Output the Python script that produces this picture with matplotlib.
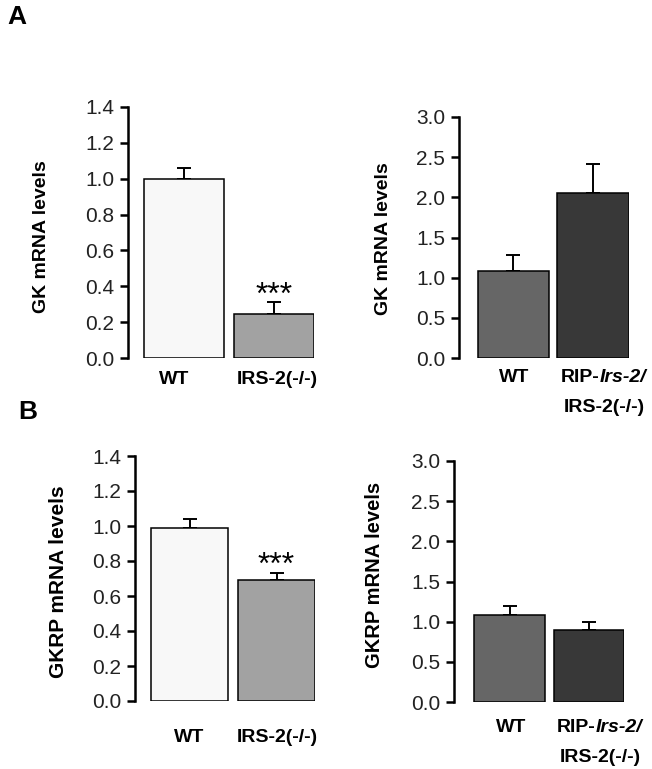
import matplotlib
matplotlib.use("Agg")
import matplotlib.pyplot as plt
import numpy as np

plt.rcParams['font.family'] = ['Liberation Sans', 'DejaVu Sans']

# ---- data ----
groups_ko = ["WT", "IRS-2(-/-)"]
groups_rip = ["WT", "RIP-Irs-2/IRS-2(-/-)"]

gk_ko_vals = [1.0, 0.245]
gk_ko_err = [0.06, 0.065]
gk_rip_vals = [1.085, 2.06]
gk_rip_err = [0.20, 0.35]

gkrp_ko_vals = [0.99, 0.69]
gkrp_ko_err = [0.05, 0.04]
gkrp_rip_vals = [1.08, 0.90]
gkrp_rip_err = [0.12, 0.10]

ko_ticks = [0.0, 0.2, 0.4, 0.6, 0.8, 1.0, 1.2, 1.4]
rip_ticks = [0.0, 0.5, 1.0, 1.5, 2.0, 2.5, 3.0]

ko_colors = ["#f8f8f8", "#a2a2a2"]
rip_colors = ["#666666", "#383838"]

W, H = 652, 769
fig = plt.figure(figsize=(W / 100, H / 100), dpi=100)


def px_axes(left, right, top, bottom):
    return fig.add_axes([left / W, 1 - bottom / H, (right - left) / W, (bottom - top) / H])


def draw(ax, vals, errs, colors, ticks, width, offset, stars=None):
    x = np.arange(len(vals))
    ax.bar(x, vals, width=width, color=colors, edgecolor="black", linewidth=1.1, zorder=2)
    ax.errorbar(x, vals, yerr=[np.zeros(len(errs)), errs], fmt="none", ecolor="black",
                elinewidth=1.4, capsize=5, capthick=1.4, zorder=1)
    ax.set_xlim(-offset, len(vals) - 1 + width / 2)
    ax.set_ylim(ticks[0], ticks[-1])
    ax.set_yticks(ticks)
    ax.set_yticklabels([f"{t:.1f}" for t in ticks], fontsize=15, color="#222222")
    ax.tick_params(axis="y", direction="out", length=6, width=1.8, pad=4)
    ax.set_xticks([])
    for s in ["top", "right", "bottom"]:
        ax.spines[s].set_visible(False)
    ax.spines["left"].set_linewidth(1.8)
    if stars:
        for i, st in stars.items():
            ax.annotate(st, xy=(i, vals[i] + errs[i]), xytext=(0, -8), textcoords="offset pixels",
                        ha="center", va="bottom", fontsize=23)
    return x


def rip_label(ax, xdata, y_px_offset):
    t1 = ax.annotate("RIP-", xy=(xdata, 0), xycoords=("data", "axes fraction"),
                     xytext=(-32, y_px_offset), textcoords="offset pixels",
                     ha="left", va="center", fontsize=14, fontweight="bold")
    ax.annotate("Irs-2/", xy=(1, 0), xycoords=t1, ha="left", va="bottom",
                fontsize=14, fontweight="bold", fontstyle="italic")
    ax.annotate("IRS-2(-/-)", xy=(xdata, 0), xycoords=("data", "axes fraction"),
                xytext=(-29, y_px_offset - 31), textcoords="offset pixels",
                ha="left", va="center", fontsize=14, fontweight="bold")


# Panel A left
ax1 = px_axes(128, 314, 107, 358)
x1 = draw(ax1, gk_ko_vals, gk_ko_err, ko_colors, ko_ticks, 0.89, 0.628, stars={1: "***"})
for xi, lab, dx in zip(x1, groups_ko, [-10, 3]):
    ax1.annotate(lab, xy=(xi, 0), xycoords=("data", "axes fraction"), xytext=(dx, -22),
                 textcoords="offset pixels", ha="center", va="center", fontsize=14, fontweight="bold")

# Panel A right
ax2 = px_axes(459, 629, 117, 358)
x2 = draw(ax2, gk_rip_vals, gk_rip_err, rip_colors, rip_ticks, 0.9, 0.683)
ax2.annotate(groups_rip[0], xy=(x2[0], 0), xycoords=("data", "axes fraction"), xytext=(1, -19),
             textcoords="offset pixels", ha="center", va="center", fontsize=14, fontweight="bold")
rip_label(ax2, x2[1], -19)

# Panel B left
ax3 = px_axes(135, 315, 456, 701)
x3 = draw(ax3, gkrp_ko_vals, gkrp_ko_err, ko_colors, ko_ticks, 0.885, 0.628, stars={1: "***"})
for xi, lab, dx in zip(x3, groups_ko, [0, 1]):
    ax3.annotate(lab, xy=(xi, 0), xycoords=("data", "axes fraction"), xytext=(dx, -36),
                 textcoords="offset pixels", ha="center", va="center", fontsize=14, fontweight="bold")

# Panel B right
ax4 = px_axes(454, 624, 461, 702)
x4 = draw(ax4, gkrp_rip_vals, gkrp_rip_err, rip_colors, rip_ticks, 0.884, 0.70)
ax4.annotate(groups_rip[0], xy=(x4[0], 0), xycoords=("data", "axes fraction"), xytext=(2, -25),
             textcoords="offset pixels", ha="center", va="center", fontsize=14, fontweight="bold")
rip_label(ax4, x4[1], -25)

# y labels
fig.text(41.7 / W, 1 - 237 / H, "GK mRNA levels", rotation=90, ha="center", va="center",
         fontsize=14, fontweight="bold")
fig.text(383.3 / W, 1 - 238.5 / H, "GK mRNA levels", rotation=90, ha="center", va="center",
         fontsize=14, fontweight="bold")
fig.text(58.3 / W, 1 - 582 / H, "GKRP mRNA levels", rotation=90, ha="center", va="center",
         fontsize=15, fontweight="bold")
fig.text(375 / W, 1 - 575 / H, "GKRP mRNA levels", rotation=90, ha="center", va="center",
         fontsize=14.5, fontweight="bold")

# panel letters
fig.text(7 / W, 1 - 17 / H, "A", ha="left", va="center", fontsize=19, fontweight="bold")
fig.text(18 / W, 1 - 412 / H, "B", ha="left", va="center", fontsize=19, fontweight="bold")

fig.savefig("out.png", dpi=100)
